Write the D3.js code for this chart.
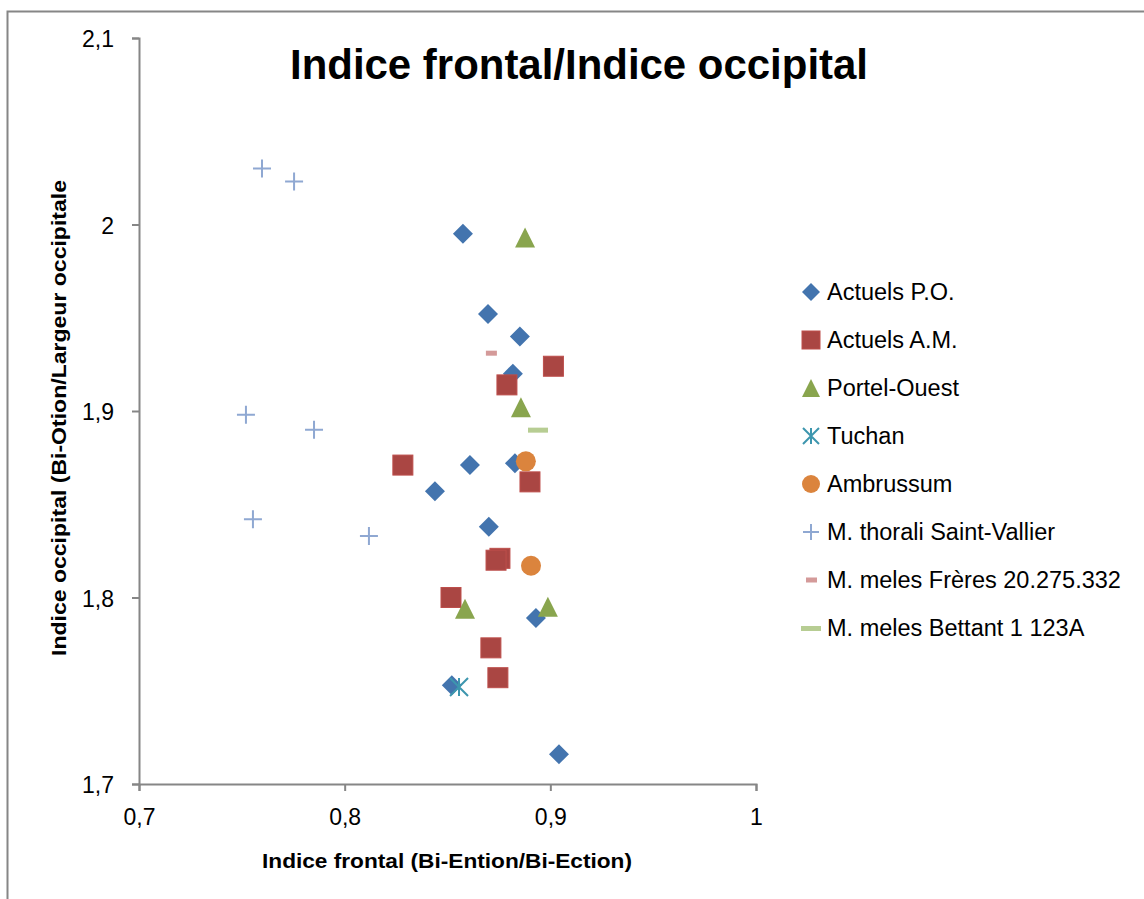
<!DOCTYPE html>
<html><head><meta charset="utf-8">
<script src="https://cdn.jsdelivr.net/npm/d3@7"></script>
<style>body{margin:0;background:#fff}svg{display:block}text{font-family:"Liberation Sans","DejaVu Sans",sans-serif}</style>
</head><body>
<script>
const xTicks = [0.7, 0.8, 0.9, 1];
const yTicks = [1.7, 1.8, 1.9, 2, 2.1];
const seriesNames = ["Actuels P.O.", "Actuels A.M.", "Portel-Ouest", "Tuchan", "Ambrussum", "M. thorali Saint-Vallier", "M. meles Frères 20.275.332", "M. meles Bettant  1 123A"];
const seriesColors = ["#4374AE", "#AA4643", "#89A54E", "#3D96AE", "#DB843D", "#8FA8D2", "#D49A99", "#B7CD93"];
const seriesShapes = ["diamond", "square", "triangle", "asterisk", "circle", "plus", "dashSmall", "dashLong"];
const actuelsPO = [[0.8575,1.995],[0.8697,1.952],[0.8852,1.940],[0.8818,1.920],[0.8609,1.871],[0.8828,1.872],[0.8439,1.857],[0.8701,1.838],[0.8930,1.789],[0.8521,1.753],[0.9042,1.716]];
const actuelsAM = [[0.9015,1.924],[0.8789,1.914],[0.8283,1.871],[0.8901,1.862],[0.8755,1.821],[0.8736,1.820],[0.8517,1.800],[0.8711,1.773],[0.8745,1.757]];
const portelOuest = [[0.8877,1.993],[0.8857,1.902],[0.8585,1.794],[0.8988,1.795]];
const tuchan = [[0.8556,1.752]];
const ambrussum = [[0.8881,1.873],[0.8906,1.817]];
const thorali = [[0.7598,2.030],[0.7754,2.023],[0.7520,1.898],[0.7851,1.890],[0.7554,1.842],[0.8118,1.833]];
const melesFreres = [[0.8711,1.931]];
const melesBettant = [[0.8940,1.890]];
const seriesData = [actuelsPO, actuelsAM, portelOuest, tuchan, ambrussum, thorali, melesFreres, melesBettant];

const W = 1144, H = 899;
const svg = d3.select("body").append("svg").attr("width", W).attr("height", H);
svg.append("rect").attr("x", 7.5).attr("y", 11.5).attr("width", W + 20).attr("height", H + 20)
  .attr("fill", "#fff").attr("stroke", "#868686").attr("stroke-width", 2);

const x = d3.scaleLinear().domain([0.7, 1]).range([139, 756]);
const y = d3.scaleLinear().domain([1.7, 2.1]).range([784, 38]);
const fmt = d => String(d).replace(".", ",");

const gx = svg.append("g").attr("transform", "translate(0,784)")
  .call(d3.axisBottom(x).tickValues(xTicks).tickFormat(fmt).tickSizeOuter(0).tickSize(7).tickPadding(18));
const gy = svg.append("g").attr("transform", "translate(139,0)")
  .call(d3.axisLeft(y).tickValues(yTicks).tickFormat(fmt).tickSizeOuter(0).tickSize(7).tickPadding(18));
[gx, gy].forEach(g => {
  g.select(".domain").attr("stroke", "#868686").attr("stroke-width", 2);
  g.selectAll(".tick line").attr("stroke", "#868686").attr("stroke-width", 2);
  g.selectAll(".tick text").style("font-size", "23px").attr("fill", "#000");
});
gy.selectAll(".tick text").attr("dy", "0.38em");

function drawMarker(g, shape, color, legend) {
  const s = legend ? 18 : 20;
  const h = s / 2;
  switch (shape) {
    case "diamond":
      g.append("path").attr("d", `M0,${-h}L${h},0L0,${h}L${-h},0Z`).attr("fill", color);
      break;
    case "square":
      g.append("rect").attr("x", -h).attr("y", -h).attr("width", s).attr("height", s).attr("fill", color).attr("stroke", d3.color(color).brighter(0.3)).attr("stroke-width", 1);
      break;
    case "triangle":
      g.append("path").attr("d", `M0,${-h}L${h},${h}L${-h},${h}Z`).attr("fill", color);
      break;
    case "circle":
      g.append("circle").attr("r", h).attr("fill", color);
      break;
    case "asterisk": {
      const r = h - 1;
      g.append("path").attr("d", `M${-r},${-r}L${r},${r}M${-r},${r}L${r},${-r}M0,${-r}L0,${r}`).attr("stroke", color).attr("stroke-width", 2).attr("fill", "none");
      break; }
    case "plus": {
      const r = h - 1;
      g.append("path").attr("d", `M${-r},0L${r},0M0,${-r}L0,${r}`).attr("stroke", color).attr("stroke-width", 2).attr("fill", "none");
      break; }
    case "dashSmall":
      g.append("rect").attr("x", -5).attr("y", -2.5).attr("width", 11).attr("height", 5).attr("fill", color);
      break;
    case "dashLong":
      g.append("rect").attr("x", -10).attr("y", -2).attr("width", 20).attr("height", 5).attr("fill", color);
      break;
  }
}

seriesData.forEach((data, i) => {
  data.forEach(d => {
    const g = svg.append("g").attr("transform", `translate(${x(d[0])},${y(d[1])})`);
    drawMarker(g, seriesShapes[i], seriesColors[i], false);
  });
});

// Legend
const lg = svg.append("g");
seriesNames.forEach((name, i) => {
  const yy = 292 + i * 48;
  const g = lg.append("g").attr("transform", `translate(811,${yy})`);
  drawMarker(g, seriesShapes[i], seriesColors[i], true);
  lg.append("text").attr("x", 827).attr("y", yy).attr("dy", "0.36em").style("font-size", "23.5px").text(name);
});

// Title
svg.append("text").attr("x", 579).attr("y", 79).attr("text-anchor", "middle")
  .style("font-size", "42px").attr("font-weight", "bold").attr("textLength", 578).attr("lengthAdjust", "spacingAndGlyphs")
  .text("Indice frontal/Indice occipital");
// X label
svg.append("text").attr("x", 447).attr("y", 868).attr("text-anchor", "middle")
  .style("font-size", "20px").attr("font-weight", "bold").attr("textLength", 370).attr("lengthAdjust", "spacingAndGlyphs")
  .text("Indice frontal (Bi-Ention/Bi-Ection)");
// Y label
svg.append("text").attr("transform", "translate(66,418) rotate(-90)").attr("text-anchor", "middle")
  .style("font-size", "20px").attr("font-weight", "bold").attr("textLength", 476).attr("lengthAdjust", "spacingAndGlyphs")
  .text("Indice occipital  (Bi-Otion/Largeur  occipitale");
</script>
</body></html>
